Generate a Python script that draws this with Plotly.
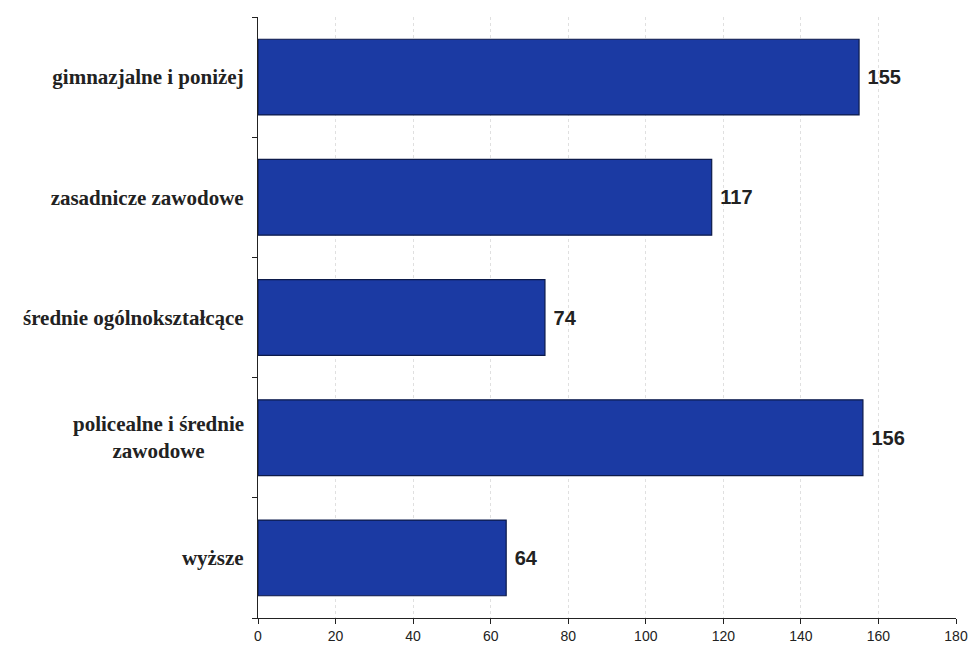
import plotly.graph_objects as go

categories = ["gimnazjalne i poniżej", "zasadnicze zawodowe", "średnie ogólnokształcące",
              "policealne i średnie<br>zawodowe", "wyższe"]
values = [155, 117, 74, 156, 64]
x_ticks = [0, 20, 40, 60, 80, 100, 120, 140, 160, 180]

fig = go.Figure(go.Bar(
    y=categories, x=values, orientation="h",
    marker=dict(color="#1b3aa3", line=dict(color="#0c1a4a", width=1.2)),
    width=0.63,
    text=[f"<b>{v}</b>" for v in values], textposition="outside",
    texttemplate=" %{text}",
    textfont=dict(family="Liberation Sans, Arial", size=20, color="#222"),
    cliponaxis=False,
))

# multi-line labels are drawn centred as annotations; single-line ones as tick labels
tick_text = ["" if "<br>" in c else f"<b>{c}</b>" for c in categories]
for c in categories:
    if "<br>" in c:
        fig.add_annotation(x=0, xref="paper", y=c, yref="y", text=f"<b>{c}</b>",
                           showarrow=False, xanchor="right", xshift=-12, align="center",
                           font=dict(family="Liberation Serif, Times New Roman", size=21,
                                     color="#222"))

fig.update_layout(
    width=962, height=637,
    margin=dict(l=250, r=14, t=9, b=27, autoexpand=False),
    paper_bgcolor="white", plot_bgcolor="white",
    showlegend=False,
    xaxis=dict(range=[0, 180], tickvals=x_ticks, showgrid=True, gridcolor="#e0e0e0",
               griddash="dot", gridwidth=1, zeroline=False, automargin=False,
               showline=True, linecolor="#222", linewidth=1.2,
               ticks="outside", ticklen=5, tickcolor="#222",
               tickfont=dict(family="Liberation Sans, Arial", size=14, color="#222")),
    yaxis=dict(autorange="reversed", showline=True, linecolor="#222", linewidth=1.2,
               ticks="outside", ticklen=5, tickcolor="#222", tickson="boundaries",
               tickmode="array", tickvals=categories, ticktext=tick_text,
               showgrid=False, ticklabelstandoff=9, automargin=False,
               tickfont=dict(family="Liberation Serif, Times New Roman", size=21, color="#222")),
    bargap=0.37,
)

fig.write_html("out.html")
